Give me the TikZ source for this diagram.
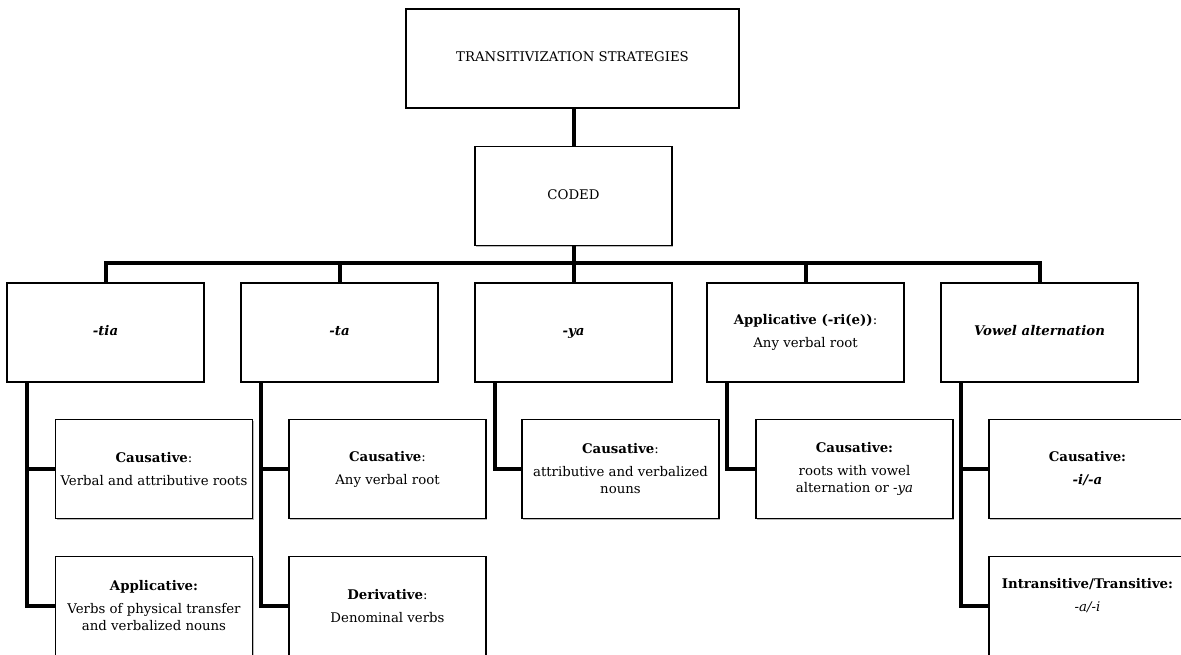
\documentclass[tikz,border=0pt]{standalone}
\usepackage{fontspec}
\setmainfont{DejaVu Serif}
\usetikzlibrary{shadows}
\begin{document}
\begin{tikzpicture}[x=1pt,y=-1pt,
  box/.style={draw=black, line width=1.1pt, fill=white, minimum width=197pt, minimum height=99pt,
    inner sep=0pt, align=center, font=\fontsize{13.3}{17}\selectfont,
    drop shadow={shadow xshift=1.3pt, shadow yshift=-1.3pt, fill=black!45, opacity=.6}},
  link/.style={line width=4pt, draw=black}]
\clip (0,0) rectangle (1181,654);
\fill[white] (0,0) rectangle (1181,654);
% level 0
\node[box, minimum width=333pt] (top) at (572.5,58.5) {\strut TRANSITIVIZATION STRATEGIES};
\node[box] (coded) at (573.5,196) {\strut CODED};
% level 1
\node[box] (tia) at (105.5,332.5) {\strut\textbf{\textit{-tia}}};
\node[box] (ta) at (339.5,332.5) {\strut\textbf{\textit{-ta}}};
\node[box] (ya) at (573.5,332.5) {\strut\textbf{\textit{-ya}}};
\node[box] (app) at (805.5,332.5) {\textbf{Applicative (-ri(e))}:\\[6pt]Any verbal root};
\node[box] (vow) at (1039.5,332.5) {\strut\textbf{\textit{Vowel alternation}}};
% level 2
\node[box] (tiaC) at (154,469) {\textbf{Causative}:\\[6pt]Verbal and attributive roots};
\node[box] (tiaA) at (154,606) {\textbf{Applicative:}\\[6pt]Verbs of physical transfer\\and verbalized nouns};
\node[box] (taC) at (387.5,469) {\textbf{Causative}:\\[6pt]Any verbal root};
\node[box] (taD) at (387.5,606) {\textbf{Derivative}:\\[6pt]Denominal verbs};
\node[box] (yaC) at (620.5,469) {\textbf{Causative}:\\[6pt]attributive and verbalized\\nouns};
\node[box] (appC) at (854.5,469) {\textbf{Causative:}\\[6pt]roots with vowel\\alternation or \textit{-ya}};
\node[box] (vowC) at (1087.5,469) {\textbf{Causative:}\\[6pt]\textbf{\textit{-i/-a}}};
\node[box] (vowI) at (1087.5,606) {\textbf{Intransitive/Transitive:}\\[6pt]\textit{-a/-i}\\\strut};
% connectors
\draw[link] (coded.north |- top.south) -- (coded.north);
\draw[link] (coded.south) -- (ya.north);
\draw[link] (tia.north) -- ++(0,-19) -| (vow.north);
\draw[link] (ta.north) -- ++(0,-19);
\draw[link] (app.north) -- ++(0,-19);
\draw[link] ([xshift=21pt]tia.south west) |- (tiaA.west);
\draw[link] ([xshift=21pt]tia.south west |- tiaC.west) -- (tiaC.west);
\draw[link] ([xshift=21pt]ta.south west) |- (taD.west);
\draw[link] ([xshift=21pt]ta.south west |- taC.west) -- (taC.west);
\draw[link] ([xshift=21pt]ya.south west) |- (yaC.west);
\draw[link] ([xshift=21pt]app.south west) |- (appC.west);
\draw[link] ([xshift=21pt]vow.south west) |- (vowI.west);
\draw[link] ([xshift=21pt]vow.south west |- vowC.west) -- (vowC.west);
\end{tikzpicture}
\end{document}
